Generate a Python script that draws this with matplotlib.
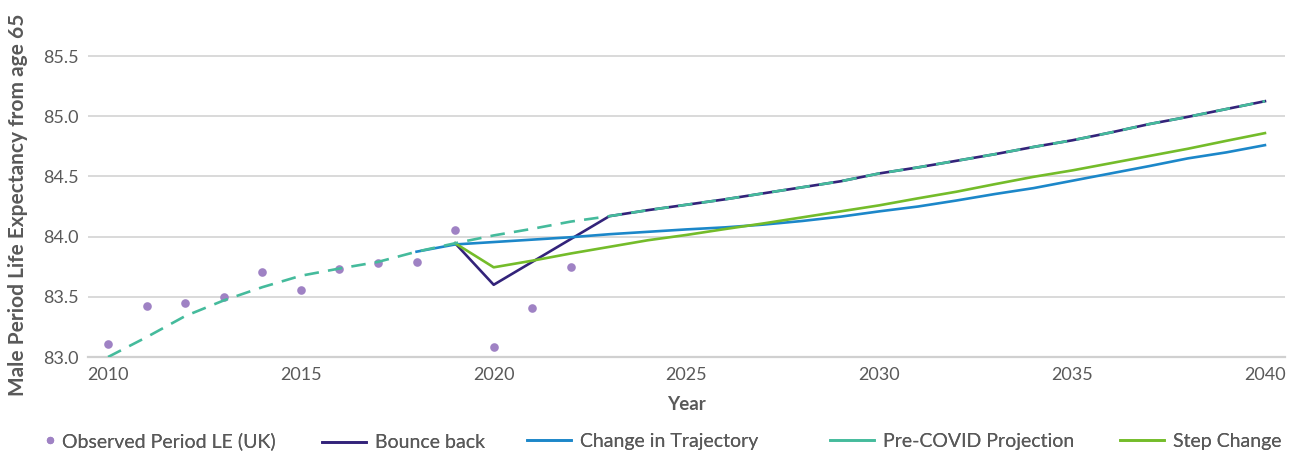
import matplotlib
matplotlib.use("Agg")
import matplotlib.pyplot as plt
from matplotlib.lines import Line2D

# ---- data ----
obs_years = list(range(2010, 2023))
observed = [83.105, 83.42, 83.45, 83.50, 83.71, 83.56, 83.735, 83.78, 83.79,
            84.055, 83.085, 83.41, 83.75]

pre_years = list(range(2010, 2041))
pre_covid = [83.00, 83.165, 83.34, 83.47, 83.58, 83.675, 83.735, 83.79, 83.875,
             83.945, 84.01, 84.065, 84.125, 84.17, 84.22, 84.265, 84.31, 84.36,
             84.41, 84.46, 84.525, 84.575, 84.63, 84.685, 84.745, 84.80, 84.865,
             84.935, 84.995, 85.06, 85.125]

bounce_years = list(range(2019, 2041))
bounce_back = [83.945, 83.60, 83.79, 83.98, 84.17, 84.22, 84.265, 84.31, 84.36,
               84.41, 84.46, 84.525, 84.575, 84.63, 84.685, 84.745, 84.80, 84.865,
               84.935, 84.995, 85.06, 85.125]

change_years = list(range(2018, 2041))
change_traj = [83.875, 83.935, 83.955, 83.975, 83.995, 84.02, 84.04, 84.06, 84.077,
               84.10, 84.13, 84.166, 84.21, 84.25, 84.30, 84.354, 84.403, 84.464,
               84.525, 84.586, 84.65, 84.70, 84.76]

step_years = list(range(2019, 2041))
step_change = [83.945, 83.745, 83.80, 83.86, 83.915, 83.97, 84.014, 84.063, 84.11,
               84.16, 84.21, 84.26, 84.318, 84.373, 84.436, 84.497, 84.55, 84.61,
               84.67, 84.73, 84.796, 84.86]

x_ticks = [2010, 2015, 2020, 2025, 2030, 2035, 2040]
y_ticks = [83.0, 83.5, 84.0, 84.5, 85.0, 85.5]

# ---- style ----
TXT = "#595959"
C_OBS = "#9F82C4"
C_BOUNCE = "#33237A"
C_CHANGE = "#1C87C9"
C_PRE = "#45BB9C"
C_STEP = "#74BC2A"
FONT = "Lato"
LW = 1.9

W, H = 1298, 454
fig = plt.figure(figsize=(W / 100, H / 100), dpi=100)
left, right, bottom, top = 88, 1285, 357, 32
ax = fig.add_axes([left / W, 1 - bottom / H, (right - left) / W, (bottom - top) / H])

h_obs, = ax.plot(obs_years, observed, linestyle="none", marker="o", ms=6.2,
                 color=C_OBS, mec="none", label="Observed Period LE (UK)", zorder=3)
h_bb, = ax.plot(bounce_years, bounce_back, color=C_BOUNCE, lw=LW, label="Bounce back", zorder=4)
h_ct, = ax.plot(change_years, change_traj, color=C_CHANGE, lw=LW, label="Change in Trajectory", zorder=4)
ax.plot(pre_years, pre_covid, color=C_PRE, lw=LW, dashes=(5.5, 3.5),
        label="Pre-COVID Projection", zorder=5)
h_sc, = ax.plot(step_years, step_change, color=C_STEP, lw=LW, label="Step Change", zorder=4)
# the reference legend shows the projection with a solid key
h_pre = Line2D([], [], color=C_PRE, lw=LW)

ax.set_xlim(2009.48, 2040.52)
ax.set_ylim(83.0, 85.7)
ax.set_xticks(x_ticks)
ax.set_yticks(y_ticks)
ax.set_yticklabels([f"{v:.1f}" for v in y_ticks])

ax.grid(axis="y", color="#D9D9D9", lw=1.4)
ax.set_axisbelow(True)
for s in ["top", "right", "left"]:
    ax.spines[s].set_visible(False)
ax.spines["bottom"].set_color("#D0D0D0")
ax.spines["bottom"].set_linewidth(1.6)
ax.tick_params(length=0, colors=TXT, labelsize=13, pad=7)
for lab in ax.get_xticklabels() + ax.get_yticklabels():
    lab.set_fontfamily(FONT)
    lab.set_color(TXT)

ax.set_xlabel("Year", fontfamily=FONT, fontweight="bold", fontsize=13.5, color=TXT)
ax.xaxis.set_label_coords(0.5, -(405 - 357) / (bottom - top), transform=ax.transAxes)
ax.xaxis.label.set_verticalalignment("center")
ax.set_ylabel("Male Period Life Expectancy from age 65", fontfamily=FONT,
              fontweight="bold", fontsize=15, color=TXT)
ax.yaxis.set_label_coords(-(left - 18) / (right - left), (bottom - 205) / (bottom - top),
                          transform=ax.transAxes)
ax.yaxis.label.set_verticalalignment("center")

# ---- legend: one entry per legend so each sits where the reference puts it ----
FS = 14
em = FS * 100 / 72
entries = [
    (h_obs, "Observed Period LE (UK)", 42, 441, 0.8, 0.25),
    (h_bb, "Bounce back", 322, 443, 44 / em, 9 / em),
    (h_ct, "Change in Trajectory", 527, 441, 44 / em, 9 / em),
    (h_pre, "Pre-COVID Projection", 830, 441, 44 / em, 9 / em),
    (h_sc, "Step Change", 1120, 441, 44 / em, 9 / em),
]
for h, lbl, x0, yp, hl, htp in entries:
    lg = fig.legend([h], [lbl], loc="center left", bbox_to_anchor=(x0 / W, 1 - yp / H),
                    frameon=False, borderpad=0, borderaxespad=0, handlelength=hl,
                    handletextpad=htp, markerscale=0.85,
                    prop={"family": FONT, "size": FS})
    for t in lg.get_texts():
        t.set_color(TXT)
    fig.add_artist(lg)

fig.savefig("out.png", dpi=100)
